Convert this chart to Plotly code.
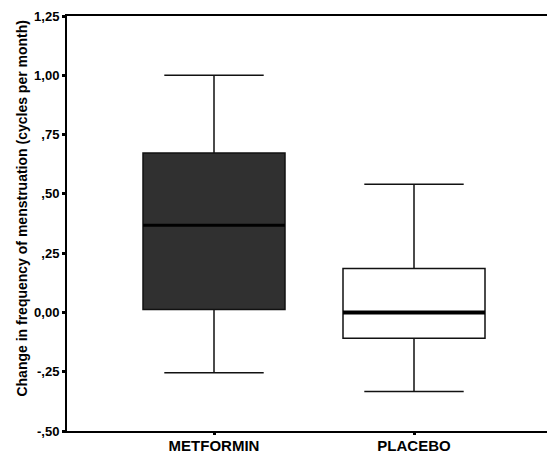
import plotly.graph_objects as go

groups = ["METFORMIN", "PLACEBO"]
positions = [0, 1]
lower_whisker = [-0.254, -0.333]
q1 = [0.012, -0.109]
median = [0.368, 0.0]
q3 = [0.672, 0.185]
upper_whisker = [1.0, 0.54]
fills = ["#303030", "#ffffff"]

ytick_vals = [-0.5, -0.25, 0.0, 0.25, 0.5, 0.75, 1.0, 1.25]
ytick_text = ["-,50", "-,25", "0,00", ",25", ",50", ",75", "1,00", "1,25"]
y_title = "Change in frequency of menstruation (cycles per month)"

box_width = 0.71

fig = go.Figure()
for i in range(len(groups)):
    fig.add_trace(go.Box(
        x=[positions[i]],
        q1=[q1[i]], median=[median[i]], q3=[q3[i]],
        lowerfence=[lower_whisker[i]], upperfence=[upper_whisker[i]],
        width=box_width, whiskerwidth=0.70,
        fillcolor=fills[i],
        line=dict(color="#111111", width=1.5),
        boxpoints=False, showlegend=False, hoverinfo="skip",
    ))
    fig.add_trace(go.Scatter(
        x=[positions[i] - box_width / 2, positions[i] + box_width / 2],
        y=[median[i], median[i]],
        mode="lines", line=dict(color="#000000", width=4 if i == 1 else 3),
        showlegend=False, hoverinfo="skip",
    ))

fig.add_annotation(
    text=y_title, xref="paper", yref="paper", x=0, y=0.536,
    xanchor="center", yanchor="middle", xshift=-45, textangle=-90,
    showarrow=False, font=dict(size=14, weight="bold", color="#000"),
)

fig.update_layout(
    width=547, height=454,
    margin=dict(l=67, r=0, t=16, b=23),
    paper_bgcolor="white", plot_bgcolor="white",
    font=dict(family="Arial, Liberation Sans, sans-serif", color="#000000"),
    xaxis=dict(
        range=[-0.735, 1.665], tickvals=positions, ticktext=groups,
        tickfont=dict(size=15, family="Arial, Liberation Sans, sans-serif", weight="bold"),
        ticks="outside", ticklen=2, tickwidth=3, tickcolor="#000",
        ticklabelstandoff=-2,
        showline=True, linecolor="#000", linewidth=1.5, mirror=True,
        showgrid=False, zeroline=False, automargin=False,
    ),
    yaxis=dict(
        range=[-0.5, 1.25], tickvals=ytick_vals, ticktext=ytick_text,
        tickfont=dict(size=13, family="Arial, Liberation Sans, sans-serif", weight="bold"),
        ticks="outside", ticklen=3, tickwidth=3, tickcolor="#000",
        showline=True, linecolor="#000", linewidth=2,
        showgrid=False, zeroline=False, automargin=False,
    ),
)

fig.write_html("out.html", config={"displayModeBar": False},
               post_script="document.body.style.margin='0';document.body.style.overflow='hidden';")
